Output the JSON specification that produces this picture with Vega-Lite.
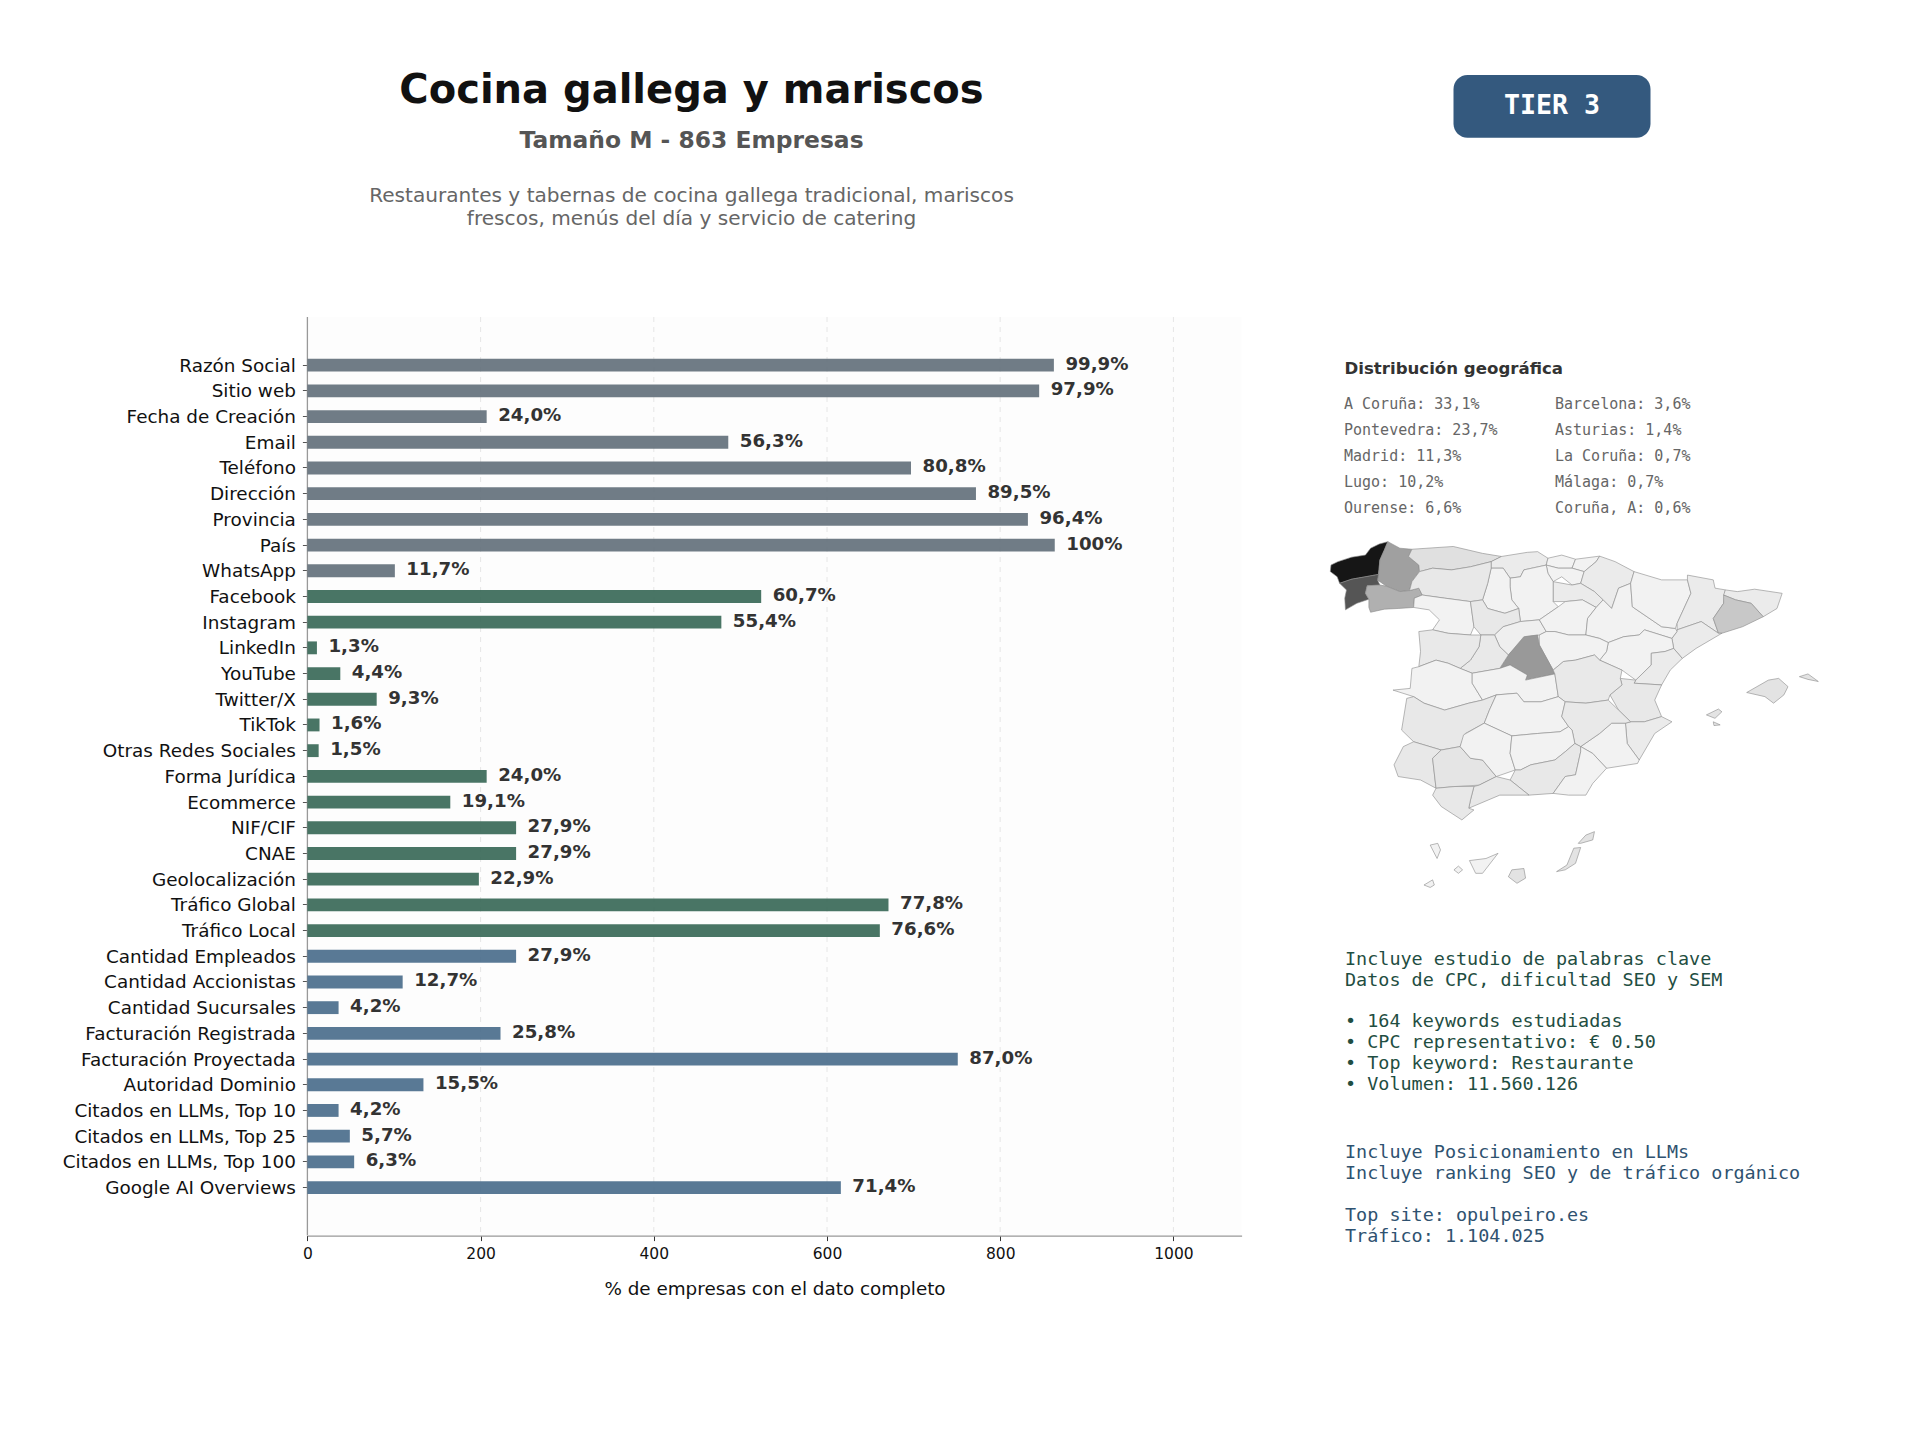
{"$schema":"https://vega.github.io/schema/vega-lite/v6.json","width":1920,"height":1440,"autosize":{"type":"none"},"padding":0,"background":"#ffffff","config":{"view":{"stroke":null},"font":"DejaVu Sans"},"resolve":{"scale":{"x":"independent","y":"independent","color":"independent"},"axis":{"x":"independent","y":"independent"}},"layer":[
{"encoding":{"x":{"field":"a","type":"quantitative","axis":null,"scale":{"domain":[0,1078.75],"range":[307.4,1241.6],"nice":false}},"y":{"field":"c","type":"quantitative","axis":null,"scale":{"domain":[0,1],"range":[317,1235.6],"nice":false}},"y2":{"field":"d"}},"layer":[
{"data":{"values":[{"a":0,"b":1078.75,"c":0,"d":1}]},"mark":{"type":"rect","fill":"#000000","opacity":0.008},"encoding":{"x2":{"field":"b"}}},
{"data":{"values":[{"a":200,"c":0,"d":1},{"a":400,"c":0,"d":1},{"a":600,"c":0,"d":1},{"a":800,"c":0,"d":1},{"a":1000,"c":0,"d":1}]},"mark":{"type":"rule","color":"#e6e6e6","strokeWidth":1,"strokeDash":[5,5]}},
{"data":{"values":[{"a":0,"c":0,"d":1}]},"mark":{"type":"rule","color":"#999999","strokeWidth":1.3}}
]},
{"data":{"values":[
{"campo":"Razón Social","empresas":862,"pct":"99,9%","grupo":"basico"},
{"campo":"Sitio web","empresas":845,"pct":"97,9%","grupo":"basico"},
{"campo":"Fecha de Creación","empresas":207,"pct":"24,0%","grupo":"basico"},
{"campo":"Email","empresas":486,"pct":"56,3%","grupo":"basico"},
{"campo":"Teléfono","empresas":697,"pct":"80,8%","grupo":"basico"},
{"campo":"Dirección","empresas":772,"pct":"89,5%","grupo":"basico"},
{"campo":"Provincia","empresas":832,"pct":"96,4%","grupo":"basico"},
{"campo":"País","empresas":863,"pct":"100%","grupo":"basico"},
{"campo":"WhatsApp","empresas":101,"pct":"11,7%","grupo":"basico"},
{"campo":"Facebook","empresas":524,"pct":"60,7%","grupo":"digital"},
{"campo":"Instagram","empresas":478,"pct":"55,4%","grupo":"digital"},
{"campo":"LinkedIn","empresas":11,"pct":"1,3%","grupo":"digital"},
{"campo":"YouTube","empresas":38,"pct":"4,4%","grupo":"digital"},
{"campo":"Twitter/X","empresas":80,"pct":"9,3%","grupo":"digital"},
{"campo":"TikTok","empresas":14,"pct":"1,6%","grupo":"digital"},
{"campo":"Otras Redes Sociales","empresas":13,"pct":"1,5%","grupo":"digital"},
{"campo":"Forma Jurídica","empresas":207,"pct":"24,0%","grupo":"digital"},
{"campo":"Ecommerce","empresas":165,"pct":"19,1%","grupo":"digital"},
{"campo":"NIF/CIF","empresas":241,"pct":"27,9%","grupo":"digital"},
{"campo":"CNAE","empresas":241,"pct":"27,9%","grupo":"digital"},
{"campo":"Geolocalización","empresas":198,"pct":"22,9%","grupo":"digital"},
{"campo":"Tráfico Global","empresas":671,"pct":"77,8%","grupo":"digital"},
{"campo":"Tráfico Local","empresas":661,"pct":"76,6%","grupo":"digital"},
{"campo":"Cantidad Empleados","empresas":241,"pct":"27,9%","grupo":"negocio"},
{"campo":"Cantidad Accionistas","empresas":110,"pct":"12,7%","grupo":"negocio"},
{"campo":"Cantidad Sucursales","empresas":36,"pct":"4,2%","grupo":"negocio"},
{"campo":"Facturación Registrada","empresas":223,"pct":"25,8%","grupo":"negocio"},
{"campo":"Facturación Proyectada","empresas":751,"pct":"87,0%","grupo":"negocio"},
{"campo":"Autoridad Dominio","empresas":134,"pct":"15,5%","grupo":"negocio"},
{"campo":"Citados en LLMs, Top 10","empresas":36,"pct":"4,2%","grupo":"negocio"},
{"campo":"Citados en LLMs, Top 25","empresas":49,"pct":"5,7%","grupo":"negocio"},
{"campo":"Citados en LLMs, Top 100","empresas":54,"pct":"6,3%","grupo":"negocio"},
{"campo":"Google AI Overviews","empresas":616,"pct":"71,4%","grupo":"negocio"}
]},"encoding":{"x":{"field":"empresas","type":"quantitative","scale":{"domain":[0,1078.75],"range":[307.4,1241.6],"nice":false},"axis":{"values":[0,200,400,600,800,1000],"format":"d","offset":-204.4,"title":"% de empresas con el dato completo","titleFont":"DejaVu Sans","titleFontSize":18.35,"titleFontWeight":"normal","titleColor":"#111111","titlePadding":18,"labelFontSize":15.5,"labelColor":"#111111","labelPadding":6,"labelFlush":false,"tickSize":5,"tickColor":"#333333","domainColor":"#999999","domainWidth":1.3,"grid":false}},"y":{"field":"campo","type":"nominal","sort":null,"title":null,"scale":{"type":"band","range":[352.3,1200.4],"paddingInner":0.5,"paddingOuter":0.25},"axis":{"offset":-307.4,"labelFontSize":18.4,"labelColor":"#111111","labelPadding":7,"labelLimit":400,"labelOffset":0.5,"tickSize":5,"tickColor":"#555555","domain":false,"grid":false}}},"layer":[
{"mark":{"type":"bar","opacity":0.9},"encoding":{"color":{"field":"grupo","type":"nominal","legend":null,"scale":{"domain":["basico","digital","negocio"],"range":["#616e79","#356654","#476a8a"]}}}},
{"mark":{"type":"text","align":"left","baseline":"middle","dx":11.5,"dy":-0.5,"fontSize":18.2,"fontWeight":"bold","color":"#333333"},"encoding":{"text":{"field":"pct","type":"nominal"}}}
]},
{"data":{"values":[{"texto":"Cocina gallega y mariscos","col":0,"fila":0}]},"mark":{"type":"text","align":"center","baseline":"middle","fontSize":40,"fontWeight":"bold","color":"#111111"},"encoding":{"x":{"field":"col","type":"quantitative","axis":null,"scale":{"domain":[0,1],"range":[691.5,1691.5],"nice":false,"zero":false}},"y":{"field":"fila","type":"quantitative","axis":null,"scale":{"domain":[0,1],"range":[91,1091],"nice":false,"zero":false}},"text":{"field":"texto","type":"nominal"}}},
{"data":{"values":[{"texto":"Tamaño M - 863 Empresas","col":0,"fila":0}]},"mark":{"type":"text","align":"center","baseline":"middle","fontSize":23.4,"fontWeight":"bold","color":"#555555"},"encoding":{"x":{"field":"col","type":"quantitative","axis":null,"scale":{"domain":[0,1],"range":[691.5,1691.5],"nice":false,"zero":false}},"y":{"field":"fila","type":"quantitative","axis":null,"scale":{"domain":[0,1],"range":[141,1141],"nice":false,"zero":false}},"text":{"field":"texto","type":"nominal"}}},
{"data":{"values":[{"texto":"Restaurantes y tabernas de cocina gallega tradicional, mariscos","col":0,"fila":0},{"texto":"frescos, menús del día y servicio de catering","col":0,"fila":1}]},"mark":{"type":"text","align":"center","baseline":"middle","fontSize":20.1,"color":"#666666"},"encoding":{"x":{"field":"col","type":"quantitative","axis":null,"scale":{"domain":[0,1],"range":[691.5,1691.5],"nice":false,"zero":false}},"y":{"field":"fila","type":"quantitative","axis":null,"scale":{"domain":[0,1],"range":[196,219],"nice":false,"zero":false}},"text":{"field":"texto","type":"nominal"}}},
{"data":{"values":[{"a":0,"b":1,"c":0,"d":1}]},"mark":{"type":"rect","fill":"#34597e","cornerRadius":14},"encoding":{"x":{"field":"a","type":"quantitative","axis":null,"scale":{"domain":[0,1],"range":[1453.5,1650.5],"nice":false}},"x2":{"field":"b"},"y":{"field":"c","type":"quantitative","axis":null,"scale":{"domain":[0,1],"range":[75,137.7],"nice":false}},"y2":{"field":"d"}}},
{"data":{"values":[{"texto":"TIER 3","col":0,"fila":0}]},"mark":{"type":"text","align":"center","baseline":"middle","font":"DejaVu Sans Mono","fontSize":26.6,"fontWeight":"bold","color":"#ffffff"},"encoding":{"x":{"field":"col","type":"quantitative","axis":null,"scale":{"domain":[0,1],"range":[1552,2552],"nice":false,"zero":false}},"y":{"field":"fila","type":"quantitative","axis":null,"scale":{"domain":[0,1],"range":[106,1106],"nice":false,"zero":false}},"text":{"field":"texto","type":"nominal"}}},
{"data":{"values":[{"texto":"Distribución geográfica","col":0,"fila":0}]},"mark":{"type":"text","align":"left","baseline":"middle","fontSize":16.6,"fontWeight":"bold","color":"#333333"},"encoding":{"x":{"field":"col","type":"quantitative","axis":null,"scale":{"domain":[0,1],"range":[1344.5,2344.5],"nice":false,"zero":false}},"y":{"field":"fila","type":"quantitative","axis":null,"scale":{"domain":[0,1],"range":[368.5,1368.5],"nice":false,"zero":false}},"text":{"field":"texto","type":"nominal"}}},
{"data":{"values":[{"texto":"A Coruña: 33,1%","col":0,"fila":0},{"texto":"Pontevedra: 23,7%","col":0,"fila":1},{"texto":"Madrid: 11,3%","col":0,"fila":2},{"texto":"Lugo: 10,2%","col":0,"fila":3},{"texto":"Ourense: 6,6%","col":0,"fila":4},{"texto":"Barcelona: 3,6%","col":1,"fila":0},{"texto":"Asturias: 1,4%","col":1,"fila":1},{"texto":"La Coruña: 0,7%","col":1,"fila":2},{"texto":"Málaga: 0,7%","col":1,"fila":3},{"texto":"Coruña, A: 0,6%","col":1,"fila":4}]},"mark":{"type":"text","align":"left","baseline":"middle","font":"DejaVu Sans Mono","fontSize":15,"color":"#666666"},"encoding":{"x":{"field":"col","type":"quantitative","axis":null,"scale":{"domain":[0,1],"range":[1344,1555],"nice":false,"zero":false}},"y":{"field":"fila","type":"quantitative","axis":null,"scale":{"domain":[0,4],"range":[404,507.8],"nice":false,"zero":false}},"text":{"field":"texto","type":"nominal"}}},
{"data":{"values":[{"texto":"Incluye estudio de palabras clave","col":0,"fila":0},{"texto":"Datos de CPC, dificultad SEO y SEM","col":0,"fila":1},{"texto":"• 164 keywords estudiadas","col":0,"fila":3},{"texto":"• CPC representativo: € 0.50","col":0,"fila":4},{"texto":"• Top keyword: Restaurante","col":0,"fila":5},{"texto":"• Volumen: 11.560.126","col":0,"fila":6}]},"mark":{"type":"text","align":"left","baseline":"middle","font":"DejaVu Sans Mono","fontSize":18.45,"color":"#1f4e42"},"encoding":{"x":{"field":"col","type":"quantitative","axis":null,"scale":{"domain":[0,1],"range":[1345,2345],"nice":false,"zero":false}},"y":{"field":"fila","type":"quantitative","axis":null,"scale":{"domain":[0,6],"range":[958.8,1084],"nice":false,"zero":false}},"text":{"field":"texto","type":"nominal"}}},
{"data":{"values":[{"texto":"Incluye Posicionamiento en LLMs","col":0,"fila":0},{"texto":"Incluye ranking SEO y de tráfico orgánico","col":0,"fila":1},{"texto":"Top site: opulpeiro.es","col":0,"fila":3},{"texto":"Tráfico: 1.104.025","col":0,"fila":4}]},"mark":{"type":"text","align":"left","baseline":"middle","font":"DejaVu Sans Mono","fontSize":18.45,"color":"#2f5270"},"encoding":{"x":{"field":"col","type":"quantitative","axis":null,"scale":{"domain":[0,1],"range":[1345,2345],"nice":false,"zero":false}},"y":{"field":"fila","type":"quantitative","axis":null,"scale":{"domain":[0,4],"range":[1152,1236],"nice":false,"zero":false}},"text":{"field":"texto","type":"nominal"}}},
{"data":{"values":[
{"type":"Feature","properties":{"p":"A Coruña","v":33.1},"geometry":{"type":"Polygon","coordinates":[[[-7.45,43.77],[-7.7,43.7],[-7.95,43.58],[-8.1,43.38],[-8.5,43.32],[-8.9,43.19],[-9.1,43.09],[-9.12,42.9],[-8.92,42.75],[-8.85,42.56],[-8.5,42.68],[-8.1,42.75],[-7.72,42.82],[-7.68,43.24],[-7.55,43.53],[-7.45,43.77]]]}},
{"type":"Feature","properties":{"p":"Lugo","v":10.2},"geometry":{"type":"Polygon","coordinates":[[[-7.45,43.77],[-7.1,43.58],[-6.75,43.55],[-6.85,43.34],[-6.55,43.09],[-6.53,42.9],[-6.75,42.61],[-6.82,42.35],[-7.1,42.32],[-7.5,42.48],[-7.75,42.66],[-7.72,42.82],[-7.68,43.24],[-7.55,43.53],[-7.45,43.77]]]}},
{"type":"Feature","properties":{"p":"Pontevedra","v":23.7},"geometry":{"type":"Polygon","coordinates":[[[-8.85,42.56],[-8.5,42.68],[-8.1,42.75],[-7.72,42.82],[-7.75,42.66],[-7.68,42.51],[-8.05,42.49],[-8.1,42.27],[-8.0,42.1],[-8.35,41.98],[-8.68,41.79],[-8.7,42.13],[-8.65,42.37],[-8.85,42.56]]]}},
{"type":"Feature","properties":{"p":"Ourense","v":6.6},"geometry":{"type":"Polygon","coordinates":[[[-8.05,42.49],[-7.68,42.51],[-7.5,42.48],[-7.1,42.32],[-6.82,42.35],[-6.55,42.42],[-6.45,42.22],[-6.68,42.13],[-6.7,41.86],[-7.15,41.83],[-7.55,41.81],[-7.95,41.72],[-8.0,41.86],[-8.0,42.1],[-8.1,42.27],[-8.05,42.49]]]}},
{"type":"Feature","properties":{"p":"Asturias","v":1.4},"geometry":{"type":"Polygon","coordinates":[[[-6.75,43.55],[-5.55,43.63],[-4.7,43.43],[-4.15,43.34],[-4.45,43.19],[-5.05,43.04],[-5.6,42.95],[-6.15,43.0],[-6.53,42.9],[-6.55,43.09],[-6.85,43.34],[-6.75,43.55]]]}},
{"type":"Feature","properties":{"p":"Cantabria","v":0.5},"geometry":{"type":"Polygon","coordinates":[[[-4.15,43.34],[-3.4,43.46],[-3.1,43.48],[-2.8,43.29],[-2.85,43.09],[-3.5,42.95],[-3.6,42.75],[-3.9,42.71],[-4.1,43.0],[-4.45,43.0],[-4.45,43.19],[-4.15,43.34]]]}},
{"type":"Feature","properties":{"p":"Bizkaia","v":0.1},"geometry":{"type":"Polygon","coordinates":[[[-2.8,43.29],[-2.4,43.38],[-2.0,43.26],[-2.1,43.0],[-2.5,43.0],[-2.85,43.09],[-2.8,43.29]]]}},
{"type":"Feature","properties":{"p":"Gipuzkoa","v":0.1},"geometry":{"type":"Polygon","coordinates":[[[-2.0,43.26],[-1.3,43.35],[-1.4,43.19],[-1.75,42.9],[-2.1,43.0],[-2.0,43.26]]]}},
{"type":"Feature","properties":{"p":"Araba","v":0.1},"geometry":{"type":"Polygon","coordinates":[[[-2.85,43.09],[-2.5,43.0],[-2.1,43.0],[-1.75,42.9],[-1.85,42.56],[-2.1,42.51],[-2.4,42.75],[-2.65,42.61],[-2.8,42.85],[-2.85,43.09]]]}},
{"type":"Feature","properties":{"p":"Navarra","v":0.5},"geometry":{"type":"Polygon","coordinates":[[[-1.3,43.35],[-0.85,43.19],[-0.3,42.9],[-0.4,42.56],[-0.75,42.42],[-0.95,41.83],[-1.2,42.08],[-1.45,42.32],[-1.85,42.56],[-1.75,42.9],[-1.4,43.19],[-1.3,43.35]]]}},
{"type":"Feature","properties":{"p":"La Rioja","v":0.5},"geometry":{"type":"Polygon","coordinates":[[[-2.65,42.61],[-2.1,42.51],[-1.85,42.56],[-1.45,42.32],[-1.2,42.08],[-1.4,41.86],[-1.8,42.08],[-2.3,42.03],[-2.65,42.03],[-2.65,42.61]]]}},
{"type":"Feature","properties":{"p":"Burgos","v":0.1},"geometry":{"type":"Polygon","coordinates":[[[-3.9,42.71],[-3.6,42.75],[-3.5,42.95],[-2.85,43.09],[-2.8,42.85],[-2.65,42.61],[-2.65,42.03],[-2.5,41.88],[-3.05,41.5],[-3.6,41.45],[-3.65,41.83],[-3.85,42.08],[-3.9,42.46],[-3.9,42.71]]]}},
{"type":"Feature","properties":{"p":"Palencia","v":0.1},"geometry":{"type":"Polygon","coordinates":[[[-4.45,43.0],[-4.1,43.0],[-3.9,42.71],[-3.9,42.46],[-3.85,42.08],[-3.65,41.83],[-4.05,41.69],[-4.55,41.83],[-4.7,42.08],[-4.55,42.56],[-4.45,43.0]]]}},
{"type":"Feature","properties":{"p":"León","v":0.7},"geometry":{"type":"Polygon","coordinates":[[[-6.53,42.9],[-6.15,43.0],[-5.6,42.95],[-5.05,43.04],[-4.45,43.19],[-4.45,43.0],[-4.55,42.56],[-4.7,42.08],[-5.05,42.03],[-5.8,42.13],[-6.45,42.22],[-6.55,42.42],[-6.82,42.35],[-6.75,42.61],[-6.53,42.9]]]}},
{"type":"Feature","properties":{"p":"Zamora","v":0.1},"geometry":{"type":"Polygon","coordinates":[[[-6.68,42.13],[-6.45,42.22],[-5.8,42.13],[-5.05,42.03],[-4.95,41.3],[-5.05,41.06],[-5.7,41.11],[-6.15,41.21],[-5.95,41.5],[-6.25,41.79],[-6.7,41.86],[-6.68,42.13]]]}},
{"type":"Feature","properties":{"p":"Valladolid","v":0.7},"geometry":{"type":"Polygon","coordinates":[[[-5.05,42.03],[-4.7,42.08],[-4.55,41.83],[-4.05,41.69],[-3.65,41.83],[-3.6,41.45],[-4.1,41.3],[-4.35,41.06],[-4.75,41.06],[-4.95,41.3],[-5.05,42.03]]]}},
{"type":"Feature","properties":{"p":"Segovia","v":0.3},"geometry":{"type":"Polygon","coordinates":[[[-3.6,41.45],[-3.05,41.5],[-2.85,41.16],[-3.05,41.06],[-3.45,41.01],[-3.95,40.48],[-4.2,40.72],[-4.35,41.06],[-4.1,41.3],[-3.6,41.45]]]}},
{"type":"Feature","properties":{"p":"Soria","v":0.1},"geometry":{"type":"Polygon","coordinates":[[[-3.05,41.5],[-2.5,41.88],[-2.3,42.03],[-1.8,42.08],[-1.4,41.86],[-1.65,41.54],[-1.7,41.06],[-2.2,41.06],[-2.6,41.16],[-2.85,41.16],[-3.05,41.5]]]}},
{"type":"Feature","properties":{"p":"Zaragoza","v":0.1},"geometry":{"type":"Polygon","coordinates":[[[-1.4,41.86],[-1.2,42.08],[-0.95,41.83],[-0.75,42.42],[-0.4,42.56],[-0.35,41.88],[0.5,41.3],[0.9,41.25],[0.95,41.16],[0.8,40.96],[0.0,41.21],[-0.15,41.06],[-0.6,41.01],[-1.05,40.84],[-1.3,40.96],[-1.7,41.06],[-1.65,41.54],[-1.4,41.86]]]}},
{"type":"Feature","properties":{"p":"Huesca","v":0.1},"geometry":{"type":"Polygon","coordinates":[[[-0.4,42.56],[-0.3,42.9],[0.5,42.66],[1.25,42.66],[1.35,42.27],[0.95,41.4],[0.9,41.25],[0.5,41.3],[-0.35,41.88],[-0.4,42.56]]]}},
{"type":"Feature","properties":{"p":"Lleida","v":0.5},"geometry":{"type":"Polygon","coordinates":[[[1.25,42.8],[2.0,42.66],[2.05,42.42],[2.35,42.37],[2.3,41.98],[2.0,41.54],[2.15,41.11],[1.65,41.45],[0.95,41.21],[0.95,41.4],[1.35,42.27],[1.25,42.66],[1.25,42.8]]]}},
{"type":"Feature","properties":{"p":"Girona","v":0.5},"geometry":{"type":"Polygon","coordinates":[[[2.35,42.37],[2.7,42.32],[3.2,42.39],[4.0,42.27],[3.85,41.83],[3.45,41.59],[3.1,41.98],[2.65,42.08],[2.3,42.22],[2.35,42.37]]]}},
{"type":"Feature","properties":{"p":"Barcelona","v":3.6},"geometry":{"type":"Polygon","coordinates":[[[2.3,42.22],[2.65,42.08],[3.1,41.98],[3.45,41.59],[2.85,41.3],[2.25,41.11],[2.15,41.11],[2.0,41.54],[2.3,41.98],[2.3,42.22]]]}},
{"type":"Feature","properties":{"p":"Tarragona","v":0.5},"geometry":{"type":"Polygon","coordinates":[[[0.95,41.21],[1.65,41.45],[2.15,41.11],[2.25,41.11],[1.5,40.67],[1.1,40.38],[0.85,40.67],[0.8,40.96],[0.95,41.16],[0.95,41.21]]]}},
{"type":"Feature","properties":{"p":"Teruel","v":0.1},"geometry":{"type":"Polygon","coordinates":[[[-1.05,40.84],[-0.6,41.01],[-0.15,41.06],[0.0,41.21],[0.8,40.96],[0.85,40.67],[0.6,40.58],[0.2,40.53],[0.2,40.19],[-0.25,39.75],[-0.65,40.04],[-1.3,40.33],[-1.1,40.58],[-1.05,40.84]]]}},
{"type":"Feature","properties":{"p":"Castellón","v":0.5},"geometry":{"type":"Polygon","coordinates":[[[0.85,40.67],[1.1,40.38],[0.75,40.04],[0.5,39.61],[-0.3,39.66],[-0.25,39.75],[0.2,40.19],[0.2,40.53],[0.6,40.58],[0.85,40.67]]]}},
{"type":"Feature","properties":{"p":"Valencia","v":0.7},"geometry":{"type":"Polygon","coordinates":[[[-0.7,39.8],[-0.25,39.75],[-0.3,39.66],[0.5,39.61],[0.3,39.17],[0.5,38.69],[0.0,38.54],[-0.4,38.54],[-0.75,38.88],[-1.0,39.32],[-0.65,39.61],[-0.7,39.8]]]}},
{"type":"Feature","properties":{"p":"Alicante","v":0.5},"geometry":{"type":"Polygon","coordinates":[[[-0.4,38.54],[0.0,38.54],[0.5,38.69],[0.8,38.54],[0.3,38.2],[-0.15,37.43],[-0.5,37.91],[-0.55,38.5],[-0.4,38.54]]]}},
{"type":"Feature","properties":{"p":"Murcia","v":0.1},"geometry":{"type":"Polygon","coordinates":[[[-0.95,38.5],[-0.55,38.5],[-0.5,37.91],[-0.15,37.43],[-0.2,37.33],[-1.1,37.19],[-1.5,37.62],[-1.85,37.82],[-1.3,38.2],[-0.95,38.5]]]}},
{"type":"Feature","properties":{"p":"Guadalajara","v":0.1},"geometry":{"type":"Polygon","coordinates":[[[-3.05,41.06],[-2.85,41.16],[-2.6,41.16],[-2.2,41.06],[-1.7,41.06],[-1.3,40.96],[-1.05,40.84],[-1.1,40.58],[-1.3,40.33],[-1.45,40.48],[-2.0,40.33],[-2.35,40.29],[-2.65,40.04],[-3.05,40.77],[-3.05,41.06]]]}},
{"type":"Feature","properties":{"p":"Madrid","v":11.3},"geometry":{"type":"Polygon","coordinates":[[[-3.1,41.06],[-3.05,40.77],[-2.65,40.04],[-2.6,39.93],[-3.45,39.75],[-3.4,39.9],[-3.9,40.19],[-4.2,40.09],[-3.95,40.48],[-3.5,41.01],[-3.1,41.06]]]}},
{"type":"Feature","properties":{"p":"Ávila","v":0.6},"geometry":{"type":"Polygon","coordinates":[[[-4.75,41.06],[-4.35,41.06],[-4.2,40.72],[-3.95,40.48],[-4.2,40.09],[-5.0,39.95],[-5.35,40.09],[-5.05,40.33],[-4.8,40.72],[-4.75,41.06]]]}},
{"type":"Feature","properties":{"p":"Salamanca","v":0.6},"geometry":{"type":"Polygon","coordinates":[[[-6.55,41.16],[-6.15,41.21],[-5.7,41.11],[-5.05,41.06],[-4.75,41.06],[-4.8,40.72],[-5.05,40.33],[-5.35,40.09],[-5.7,40.24],[-6.05,40.33],[-6.55,40.14],[-6.5,40.58],[-6.55,41.16]]]}},
{"type":"Feature","properties":{"p":"Cáceres","v":0.1},"geometry":{"type":"Polygon","coordinates":[[[-6.75,40.09],[-6.55,40.14],[-6.05,40.33],[-5.7,40.24],[-5.35,40.09],[-5.0,39.95],[-5.0,39.66],[-4.7,39.17],[-5.1,39.08],[-5.8,38.88],[-6.4,39.08],[-6.7,39.27],[-7.3,39.46],[-6.8,39.51],[-6.75,40.09]]]}},
{"type":"Feature","properties":{"p":"Toledo","v":0.1},"geometry":{"type":"Polygon","coordinates":[[[-5.0,39.95],[-4.2,40.09],[-3.9,40.19],[-3.4,39.9],[-3.45,39.75],[-2.6,39.93],[-2.5,39.27],[-3.0,39.12],[-3.5,39.12],[-3.7,39.37],[-4.3,39.32],[-4.7,39.17],[-5.0,39.66],[-5.0,39.95]]]}},
{"type":"Feature","properties":{"p":"Cuenca","v":0.6},"geometry":{"type":"Polygon","coordinates":[[[-2.65,40.04],[-2.35,40.29],[-2.0,40.33],[-1.45,40.48],[-1.3,40.33],[-0.65,40.04],[-0.7,39.8],[-0.65,39.61],[-1.0,39.32],[-1.05,39.17],[-1.7,39.08],[-2.3,39.12],[-2.5,39.27],[-2.6,39.93],[-2.65,40.04]]]}},
{"type":"Feature","properties":{"p":"Badajoz","v":0.7},"geometry":{"type":"Polygon","coordinates":[[[-6.9,39.22],[-6.7,39.27],[-6.4,39.08],[-5.8,38.88],[-5.1,39.08],[-4.7,39.17],[-4.3,39.32],[-4.5,38.88],[-4.65,38.5],[-5.2,38.2],[-5.35,37.82],[-5.9,37.72],[-6.7,37.96],[-7.05,38.3],[-6.9,39.22]]]}},
{"type":"Feature","properties":{"p":"Ciudad Real","v":0.1},"geometry":{"type":"Polygon","coordinates":[[[-4.3,39.32],[-3.7,39.37],[-3.5,39.12],[-3.0,39.12],[-2.5,39.27],[-2.3,39.12],[-2.4,38.69],[-2.2,38.4],[-2.45,38.25],[-3.1,38.2],[-3.85,38.13],[-4.65,38.5],[-4.5,38.88],[-4.3,39.32]]]}},
{"type":"Feature","properties":{"p":"Albacete","v":0.6},"geometry":{"type":"Polygon","coordinates":[[[-2.3,39.12],[-1.7,39.08],[-1.05,39.17],[-0.75,38.88],[-0.4,38.54],[-0.55,38.5],[-0.95,38.5],[-1.3,38.2],[-1.85,37.82],[-2.02,37.91],[-2.1,38.3],[-2.2,38.4],[-2.4,38.69],[-2.3,39.12]]]}},
{"type":"Feature","properties":{"p":"Huelva","v":0.7},"geometry":{"type":"Polygon","coordinates":[[[-6.7,37.96],[-5.9,37.72],[-6.15,37.48],[-6.05,36.61],[-6.5,36.85],[-7.15,36.95],[-7.27,37.29],[-7.0,37.82],[-6.7,37.96]]]}},
{"type":"Feature","properties":{"p":"Sevilla","v":0.9},"geometry":{"type":"Polygon","coordinates":[[[-5.9,37.72],[-5.35,37.82],[-5.05,37.48],[-4.7,37.43],[-4.3,36.95],[-4.8,36.7],[-5.5,36.66],[-6.05,36.61],[-6.15,37.48],[-5.9,37.72]]]}},
{"type":"Feature","properties":{"p":"Córdoba","v":0.1},"geometry":{"type":"Polygon","coordinates":[[[-5.25,38.16],[-4.65,38.5],[-3.85,38.13],[-3.9,37.62],[-3.75,37.14],[-4.3,36.95],[-4.7,37.43],[-5.05,37.48],[-5.35,37.82],[-5.25,38.16]]]}},
{"type":"Feature","properties":{"p":"Jaén","v":0.1},"geometry":{"type":"Polygon","coordinates":[[[-3.85,38.13],[-3.1,38.2],[-2.45,38.25],[-2.2,38.4],[-2.1,38.3],[-2.02,37.91],[-2.3,37.67],[-2.6,37.43],[-3.3,37.29],[-3.6,37.14],[-3.75,37.14],[-3.9,37.62],[-3.85,38.13]]]}},
{"type":"Feature","properties":{"p":"Granada","v":0.7},"geometry":{"type":"Polygon","coordinates":[[[-2.02,37.91],[-1.85,37.82],[-1.85,37.67],[-2.0,37.0],[-2.3,36.95],[-2.65,36.46],[-3.35,36.41],[-3.9,36.85],[-3.75,37.14],[-3.6,37.14],[-3.3,37.29],[-2.6,37.43],[-2.3,37.67],[-2.02,37.91]]]}},
{"type":"Feature","properties":{"p":"Almería","v":0.1},"geometry":{"type":"Polygon","coordinates":[[[-1.85,37.82],[-1.5,37.62],[-1.1,37.19],[-1.5,36.75],[-1.7,36.41],[-2.2,36.41],[-2.65,36.46],[-2.3,36.95],[-2.0,37.0],[-1.85,37.67],[-1.85,37.82]]]}},
{"type":"Feature","properties":{"p":"Málaga","v":0.7},"geometry":{"type":"Polygon","coordinates":[[[-4.3,36.95],[-3.9,36.85],[-3.35,36.41],[-4.2,36.41],[-5.1,36.03],[-5.05,36.27],[-4.95,36.66],[-4.8,36.7],[-4.3,36.95]]]}},
{"type":"Feature","properties":{"p":"Cádiz","v":0.7},"geometry":{"type":"Polygon","coordinates":[[[-6.05,36.61],[-5.5,36.66],[-4.95,36.66],[-5.05,36.27],[-5.1,36.03],[-4.95,35.98],[-5.3,35.69],[-5.9,36.08],[-6.15,36.41],[-6.05,36.61]]]}},
{"type":"Feature","properties":{"p":"Illes Balears","v":1},"geometry":{"type":"MultiPolygon","coordinates":[[[[2.97,39.39],[3.6,39.75],[3.9,39.8],[4.17,39.56],[4.05,39.32],[3.75,39.08],[3.5,39.27],[2.97,39.39]]],[[[4.5,39.85],[4.75,39.93],[5.05,39.71],[4.75,39.77],[4.5,39.85]]],[[[1.8,38.74],[2.15,38.91],[2.25,38.83],[2.05,38.64],[1.8,38.74]]],[[[2.0,38.54],[2.2,38.45],[2.02,38.43],[2.0,38.54]]]]}},
{"type":"Feature","properties":{"p":"Las Palmas","v":1},"geometry":{"type":"MultiPolygon","coordinates":[[[[-1.92,35.01],[-1.7,35.25],[-1.45,35.35],[-1.5,35.11],[-1.85,35.01],[-1.92,35.01]]],[[[-2.55,34.19],[-2.25,34.38],[-2.05,34.87],[-1.85,34.89],[-2.0,34.43],[-2.3,34.24],[-2.55,34.19]]],[[[-3.95,34.04],[-3.85,34.24],[-3.5,34.28],[-3.45,34.0],[-3.7,33.85],[-3.95,34.04]]]]}},
{"type":"Feature","properties":{"p":"Santa Cruz de Tenerife","v":0.1},"geometry":{"type":"MultiPolygon","coordinates":[[[[-5.08,34.51],[-4.6,34.57],[-4.25,34.72],[-4.7,34.14],[-4.9,34.14],[-5.08,34.51]]],[[[-5.53,34.24],[-5.4,34.35],[-5.28,34.24],[-5.4,34.14],[-5.53,34.24]]],[[[-6.22,34.96],[-6.0,35.01],[-5.92,34.82],[-6.02,34.57],[-6.22,34.96]]],[[[-6.4,33.8],[-6.15,33.95],[-6.1,33.8],[-6.22,33.73],[-6.4,33.8]]]]}}
]},"projection":{"type":"identity","reflectY":true,"scale":34.44,"translate":[1644.4,2049.1]},"mark":{"type":"geoshape","stroke":"#8a8a8a","strokeWidth":0.6},"encoding":{"color":{"field":"properties.v","type":"quantitative","legend":null,"scale":{"domain":[0,0.5,1,1.4,3.6,6.6,10.2,11.3,23.7,33.1],"range":["#f4f4f4","#ebebeb","#e3e3e3","#e0e0e0","#c8c8c8","#b0b0b0","#a0a0a0","#999999","#555555","#161616"]}}}}
]}
